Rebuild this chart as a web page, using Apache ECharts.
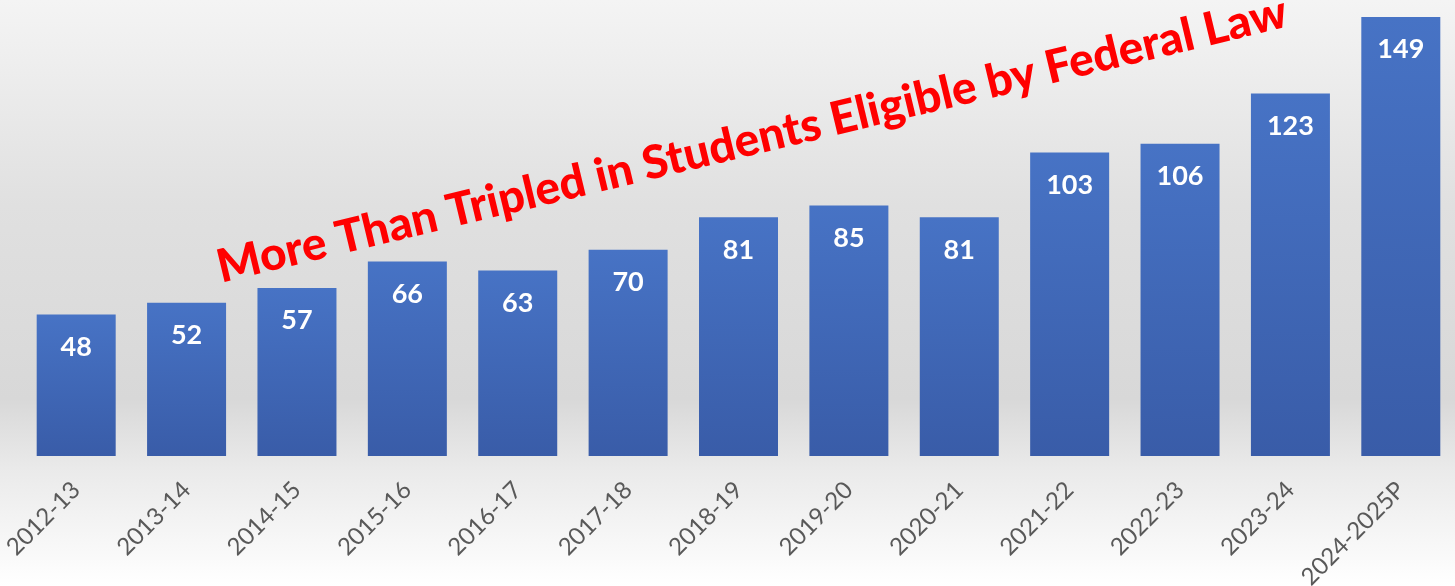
<!DOCTYPE html>
<html>
<head>
<meta charset="utf-8">
<script src="https://cdn.jsdelivr.net/npm/echarts@6/dist/echarts.min.js"></script>
<style>html,body{margin:0;padding:0;}#c{width:1455px;height:586px;}</style>
</head>
<body>
<div id="c"></div>
<script>
var categories = ['2012-13','2013-14','2014-15','2015-16','2016-17','2017-18','2018-19','2019-20','2020-21','2021-22','2022-23','2023-24','2024-2025P'];
var students = [48,52,57,66,63,70,81,85,81,103,106,123,149];
var titleText = 'More Than Tripled in Students Eligible by Federal Law';

var chart = echarts.init(document.getElementById('c'));
chart.setOption({
  animation: false,
  backgroundColor: new echarts.graphic.LinearGradient(0,0,0,1,[
    {offset:0,color:'#f4f4f4'},
    {offset:0.35,color:'#e0e0e0'},
    {offset:0.68,color:'#d8d8d8'},
    {offset:0.8,color:'#eaeaea'},
    {offset:1,color:'#ffffff'}
  ]),
  grid: {left: 21, right: -1, top: 17, bottom: 130, containLabel: false, outerBoundsMode: 'none'},
  xAxis: {
    type: 'category',
    data: categories,
    axisLine: {show: false},
    axisTick: {show: false},
    axisLabel: {rotate: 45, margin: 30, color: '#595959', fontFamily: 'Lato', fontSize: 24, interval: 0}
  },
  yAxis: {
    type: 'value', min: 0, max: 149,
    show: false,
    splitLine: {show: false}
  },
  series: [{
    type: 'bar',
    data: students,
    barWidth: 79,
    itemStyle: {
      color: new echarts.graphic.LinearGradient(0,0,0,1,[
        {offset:0,color:'#4773c5'},
        {offset:1,color:'#395ca8'}
      ])
    },
    label: {
      show: true, position: 'insideTop', distance: 19,
      color: '#ffffff', fontFamily: 'Lato', fontWeight: 'bold', fontSize: 27
    }
  }],
  graphic: [{
    type: 'text',
    x: 752, y: 140,
    rotation: 13.5 * Math.PI / 180,
    style: {
      text: titleText,
      x: 0, y: 0,
      align: 'center', verticalAlign: 'middle',
      fill: '#ff0000',
      font: '900 46px Lato'
    },
    z: 100
  }]
});
</script>
</body>
</html>
